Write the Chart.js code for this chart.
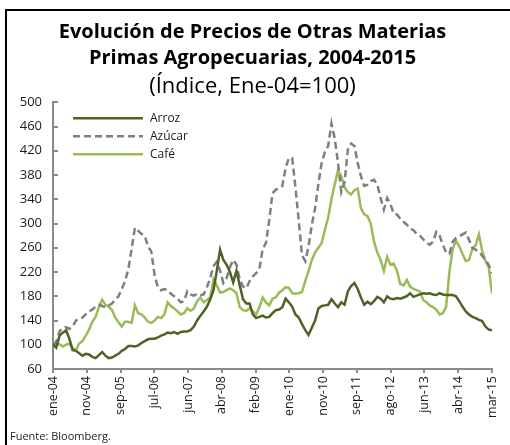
<!DOCTYPE html>
<html lang="es">
<head>
<meta charset="utf-8">
<script src="https://cdn.jsdelivr.net/npm/chart.js@4/dist/chart.umd.min.js"></script>
<style>
    html, body { margin: 0; padding: 0; background: #fff; }
    #wrap { position: relative; width: 510px; height: 445px; overflow: hidden; }
    #chart { position: absolute; left: 0; top: 0; }
    #frame { position: absolute; left: 5px; top: 9px; width: 503px; height: 445px;
             border-top: 2px solid #000; border-left: 2px solid #000; }
    #source { position: absolute; left: 10px; top: 428px; font: 11px 'Open Sans', sans-serif; color: #222; }
</style>
</head>
<body>
<div id="wrap">
    <canvas id="chart" width="510" height="445"></canvas>
    <div id="frame"></div>
    <div id="source">Fuente: Bloomberg.</div>
</div>
<script>
    // monthly index, ene-04 .. mar-15 (Ene-04 = 100)
    const tickLabels = ['ene-04', 'nov-04', 'sep-05', 'jul-06', 'jun-07', 'abr-08', 'feb-09',
        'ene-10', 'nov-10', 'sep-11', 'ago-12', 'jun-13', 'abr-14', 'mar-15'];

    const arroz = [100, 95, 115, 120, 124, 110, 91, 90, 86, 82,
        85, 84, 80, 78, 83, 88, 82, 78, 79, 82,
        85, 90, 93, 98, 98, 97, 99, 103, 106, 109,
        110, 110, 112, 115, 117, 120, 119, 121, 118, 121,
        122, 122, 124, 130, 140, 148, 155, 163, 175, 190,
        222, 257, 240, 232, 220, 203, 222, 198, 175, 168,
        168, 150, 144, 146, 148, 145, 146, 152, 157, 158,
        162, 176, 170, 163, 150, 145, 134, 124, 116, 128,
        140, 160, 164, 165, 166, 175, 168, 162, 170, 166,
        188, 197, 202, 192, 178, 166, 171, 167, 172, 179,
        176, 170, 180, 176, 175, 177, 176, 178, 180, 185,
        179, 181, 183, 185, 184, 185, 183, 182, 185, 183,
        182, 182, 182, 180, 172, 163, 155, 150, 146, 144,
        141, 139, 130, 125, 124];

    const azucar = [100, 105, 122, 128, 129, 126, 130, 140, 142, 145,
        150, 155, 158, 163, 166, 164, 162, 165, 168, 174,
        180, 192, 205, 225, 258, 293, 288, 283, 280, 262,
        254, 215, 195, 190, 192, 190, 184, 180, 176, 170,
        172, 188, 183, 181, 184, 182, 183, 195, 210, 230,
        237, 222, 202, 210, 228, 240, 232, 208, 196, 193,
        205, 213, 218, 225, 258, 268, 305, 350, 356, 358,
        362, 392, 408, 408, 360, 305, 248, 238, 262, 298,
        325, 365, 400, 418, 428, 465, 440, 400, 352, 368,
        422, 432, 428, 400, 378, 362, 364, 370, 372, 364,
        342, 323, 342, 332, 316, 315, 308, 303, 298, 292,
        289, 283, 280, 274, 268, 265, 270, 286, 280, 265,
        252, 250, 270, 276, 279, 282, 285, 273, 260, 257,
        254, 247, 240, 232, 218];

    const cafe = [100, 101, 101, 97, 100, 102, 94, 91, 102, 106,
        115, 125, 138, 146, 162, 174, 166, 163, 157, 145,
        137, 130, 138, 138, 136, 165, 152, 150, 145, 138,
        136, 140, 146, 144, 150, 170, 164, 160, 155, 150,
        152, 160, 156, 160, 172, 178, 170, 174, 178, 208,
        198, 186, 187, 190, 193, 190, 185, 162, 157, 156,
        160, 155, 150, 162, 178, 170, 165, 176, 178, 186,
        190, 195, 194, 185, 184, 185, 187, 205, 222, 240,
        252, 260, 268, 290, 310, 340, 365, 388, 378, 360,
        352, 348, 355, 358, 325, 315, 312, 300, 270, 252,
        240, 222, 245, 232, 234, 222, 200, 198, 207, 196,
        192, 190, 188, 174, 170, 165, 162, 158, 150, 152,
        163, 220, 258, 272, 262, 250, 238, 240, 258, 264,
        282, 255, 238, 228, 185];

    const lastMonth = arroz.length - 1;
    const tickPos = tickLabels.map(function(t, k) { return k * lastMonth / (tickLabels.length - 1); });
    const axisColor = '#8a8a8a';
    const textColor = '#1a1a1a';
    const fontFamily = "'Open Sans', sans-serif";

    function toPoints(values) {
        return values.map(function(v, i) { return {x: i, y: v}; });
    }

    // legend drawn inside the plot, top-left, with long line samples
    const innerLegend = {
        id: 'innerLegend',
        afterDatasetsDraw(chart) {
            const ctx = chart.ctx;
            const area = chart.chartArea;
            ctx.save();
            chart.data.datasets.forEach(function(ds, k) {
                const y = area.top + 16 + k * 18;
                const x0 = area.left + 20;
                ctx.strokeStyle = ds.borderColor;
                ctx.lineWidth = ds.borderWidth;
                ctx.setLineDash(ds.borderDash || []);
                ctx.beginPath();
                ctx.moveTo(x0, y);
                ctx.lineTo(x0 + 70, y);
                ctx.stroke();
                ctx.setLineDash([]);
                ctx.fillStyle = textColor;
                ctx.font = "12px 'Open Sans', sans-serif";
                ctx.textBaseline = 'middle';
                ctx.fillText(ds.label, x0 + 77, y);
            });
            ctx.restore();
        }
    };

    const config = {
        type: 'line',
        data: {
            datasets: [
                {label: 'Arroz', data: toPoints(arroz), borderColor: '#4F6228', borderWidth: 2.5},
                {label: 'Azúcar', data: toPoints(azucar), borderColor: '#7F7F7F', borderWidth: 2.5, borderDash: [7, 4]},
                {label: 'Café', data: toPoints(cafe), borderColor: '#9BBB59', borderWidth: 2.5}
            ]
        },
        options: {
            responsive: false,
            animation: false,
            elements: {point: {radius: 0}, line: {tension: 0}},
            layout: {padding: {left: 8, right: 13, top: 0, bottom: 22}},
            plugins: {
                legend: {display: false},
                tooltip: {enabled: false},
                title: {
                    display: true,
                    text: ['Evolución de Precios de Otras Materias', 'Primas Agropecuarias, 2004-2015'],
                    color: '#000',
                    font: {family: fontFamily, size: 20, weight: 'bold', lineHeight: 1.3},
                    padding: {top: 19, bottom: 3}
                },
                subtitle: {
                    display: true,
                    text: '(Índice, Ene-04=100)',
                    color: '#000',
                    font: {family: fontFamily, size: 22, weight: 'normal', lineHeight: 1.15},
                    padding: {top: 0, bottom: 3}
                }
            },
            scales: {
                x: {
                    type: 'linear',
                    min: 0,
                    max: lastMonth,
                    afterBuildTicks: function(scale) {
                        scale.ticks = tickPos.map(function(v) { return {value: v}; });
                    },
                    afterFit: function(scale) { scale.height = 54; },
                    ticks: {
                        autoSkip: false,
                        minRotation: 90,
                        maxRotation: 90,
                        padding: 3,
                        color: textColor,
                        font: {family: fontFamily, size: 12.5},
                        callback: function(value, index) { return tickLabels[index]; }
                    },
                    grid: {drawOnChartArea: false, tickLength: 4, color: axisColor, lineWidth: 2},
                    border: {color: axisColor, width: 2}
                },
                y: {
                    min: 60,
                    max: 500,
                    afterFit: function(scale) { scale.width = 45; },
                    ticks: {
                        stepSize: 40,
                        padding: 16,
                        color: textColor,
                        font: {family: fontFamily, size: 13}
                    },
                    grid: {drawOnChartArea: false, tickLength: -5, color: axisColor, lineWidth: 2},
                    border: {color: axisColor, width: 2}
                }
            }
        },
        plugins: [innerLegend]
    };

    const chart = new Chart(document.getElementById('chart'), config);
</script>
</body>
</html>
